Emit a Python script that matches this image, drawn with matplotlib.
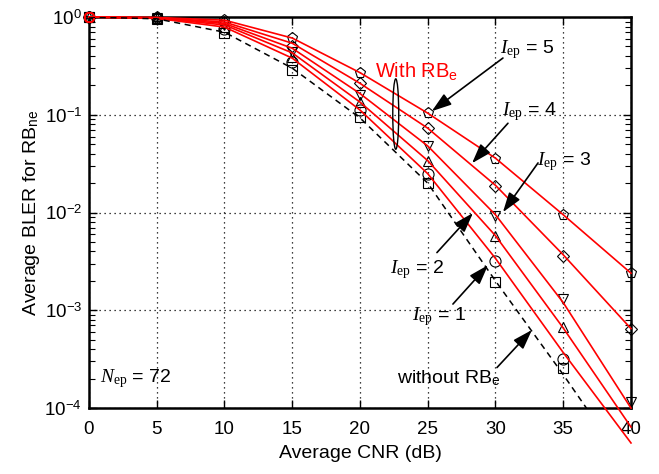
import matplotlib
matplotlib.use("Agg")
import matplotlib.pyplot as plt
import numpy as np
from matplotlib.patches import Ellipse
from matplotlib.ticker import FixedLocator, LogLocator, FuncFormatter, NullFormatter

plt.rcParams['font.family'] = ['Liberation Sans', 'DejaVu Sans']
plt.rcParams['mathtext.fontset'] = 'custom'
plt.rcParams['mathtext.rm'] = 'Liberation Serif'
plt.rcParams['mathtext.it'] = 'Liberation Serif:italic'
plt.rcParams['mathtext.sf'] = 'Liberation Sans'

# Average CNR (dB)
cnr = [0, 5, 10, 15, 20, 25, 30, 35, 40]

# Simulated BLER (markers)
sim_iep5 = [1.0, 0.99, 0.93, 0.61, 0.270, 0.104, 0.035, 0.0094, 0.0024]
sim_iep4 = [1.0, 0.985, 0.88, 0.50, 0.21, 0.073, 0.0187, 0.0036, 6.5e-4]
sim_iep3 = [1.0, 0.98, 0.83, 0.44, 0.160, 0.048, 0.0092, 1.3e-3, 1.15e-4]
sim_iep2 = [1.0, 0.975, 0.79, 0.39, 0.135, 0.034, 0.0057, 6.8e-4, np.nan]
sim_iep1 = [1.0, 0.97, 0.75, 0.35, 0.112, 0.025, 0.0032, 3.2e-4, np.nan]
sim_none = [1.0, 0.96, 0.68, 0.29, 0.094, 0.020, 0.00195, 2.6e-4, np.nan]

# Analytical BLER (lines)
ana_iep5 = [1.0, 0.99, 0.93, 0.61, 0.27, 0.104, 0.036, 0.0095, 0.0024]
ana_iep4 = [1.0, 0.985, 0.89, 0.54, 0.21, 0.073, 0.019, 0.0037, 6.5e-4]
ana_iep3 = [1.0, 0.98, 0.86, 0.48, 0.165, 0.048, 0.0095, 1.2e-3, 1.0e-4]
ana_iep2 = [1.0, 0.975, 0.83, 0.43, 0.135, 0.034, 0.0058, 6.6e-4, 6.4e-5]
ana_iep1 = [1.0, 0.97, 0.79, 0.38, 0.112, 0.025, 0.0034, 3.7e-4, 4.4e-5]
ana_none = [1.0, 0.96, 0.70, 0.30, 0.093, 0.020, 0.0020, 2.2e-4, 2.2e-5]

fig = plt.figure(figsize=(6.59, 4.74), dpi=100)
ax = fig.add_axes([0.135, 0.139, 0.8225, 0.825])

sims = [sim_iep5, sim_iep4, sim_iep3, sim_iep2, sim_iep1, sim_none]
marks = ['p', 'D', 'v', '^', 'o', 's']
sizes = [8, 6, 7.5, 7.5, 8, 7.5]
for y, m, s in zip(sims, marks, sizes):
    ax.plot(cnr, y, linestyle='none', marker=m, ms=s, mfc='none', mec='k',
            mew=0.8, clip_on=False, zorder=3)

red_lines = [ana_iep5, ana_iep4, ana_iep3, ana_iep2, ana_iep1]
for y in red_lines:
    ax.plot(cnr, y, '-', color='#ff0000', lw=1.2, marker='o', ms=7,
            mfc='none', mec='#ff0000', markevery=[0], clip_on=False, zorder=4)
ax.plot(cnr, ana_none, '--', color='k', lw=1.1, dashes=(4, 3), zorder=4)

ax.set_yscale('log')
ax.set_xlim(0, 40)
ax.set_ylim(1e-4, 1)
ax.xaxis.set_major_locator(FixedLocator(cnr))
ax.yaxis.set_major_locator(LogLocator(base=10, numticks=10))
ax.yaxis.set_minor_locator(LogLocator(base=10, subs=np.arange(2, 10), numticks=10))
ax.yaxis.set_minor_formatter(NullFormatter())
ax.yaxis.set_major_formatter(
    FuncFormatter(lambda v, p: r'$\mathsf{10}^{\mathsf{%d}}$' % int(round(np.log10(v)))))

ax.grid(True, which='major', linestyle=(0, (1, 3)), color='k', lw=0.9)
ax.tick_params(which='both', direction='in', top=True, right=True, labelsize=13.5)
ax.tick_params(which='major', length=6, width=1)
ax.tick_params(which='minor', length=4, width=0.8)
ax.tick_params(axis='x', pad=9)
ax.tick_params(axis='y', pad=5)
for sp in ax.spines.values():
    sp.set_linewidth(1.8)

ax.set_xlabel('Average CNR (dB)', fontsize=14, labelpad=5)
ax.set_ylabel(r'Average BLER for RB$_{\mathsf{ne}}$', fontsize=14, labelpad=2)

arrow = dict(arrowstyle='-|>,head_length=0.6,head_width=0.2', color='k', lw=1.2,
             shrinkA=0, shrinkB=0, mutation_scale=20)

# (label, text pos, arrow tail, arrow head)
labels = [
    (r'$I_{\mathrm{ep}}$ = 5', (30.33, 0.428), (30.55, 0.381), (25.3, 0.109)),
    (r'$I_{\mathrm{ep}}$ = 4', (30.48, 0.0994), (30.92, 0.082), (28.27, 0.032)),
    (r'$I_{\mathrm{ep}}$ = 3', (33.06, 0.0306), (33.14, 0.0322), (30.55, 0.0101)),
    (r'$I_{\mathrm{ep}}$ = 2', (22.21, 0.0024), (25.68, 0.0039), (28.34, 0.0099)),
    (r'$I_{\mathrm{ep}}$ = 1', (23.84, 7.9e-4), (26.86, 0.00116), (29.45, 0.0029)),
    (r'without RB$_{\mathsf{e}}$', (22.73, 1.8e-4), (30.11, 2.6e-4), (32.69, 6.3e-4)),
]
for txt, tpos, tail, head in labels:
    ax.text(tpos[0], tpos[1], txt, fontsize=14, ha='left', va='baseline', zorder=6)
    ax.annotate('', xy=head, xytext=tail, arrowprops=arrow, zorder=6)

ax.text(21.1, 0.243, r'With RB$_{\mathsf{e}}$', color='#ff0000', fontsize=14.5,
        ha='left', va='baseline')
ax.add_patch(Ellipse((0.566, 0.752), 0.011, 0.18, transform=ax.transAxes,
                     fill=False, ec='k', lw=1.0, zorder=5))
ax.text(0.81, 1.85e-4, r'$N_{\mathrm{ep}}$ = 72', fontsize=14, ha='left', va='baseline')

fig.savefig('out.png', dpi=100)
